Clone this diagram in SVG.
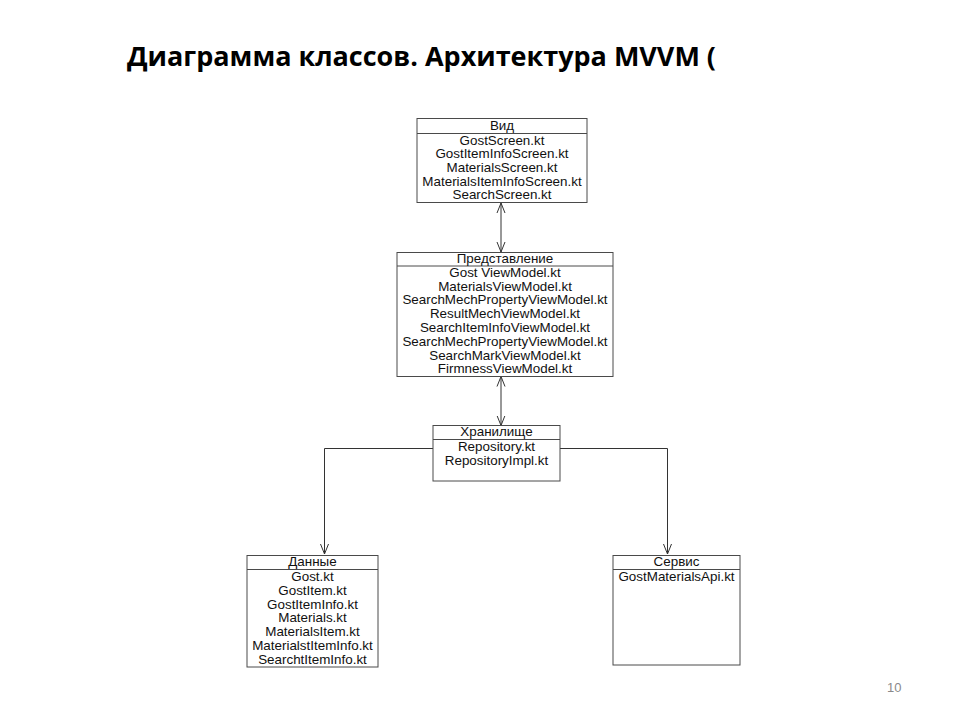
<svg xmlns="http://www.w3.org/2000/svg" width="960" height="720" viewBox="0 0 960 720">
<style>
.box{fill:#fff;stroke:#4a4a4a;stroke-width:1}
.sep{stroke:#4a4a4a;stroke-width:1}
.t{font-family:"Liberation Sans",Arial,sans-serif;font-size:13.4px;fill:#111;text-anchor:middle}
.title{font-family:"Open Sans","Noto Sans",sans-serif;font-weight:700;font-size:26px;fill:#000}
.num{font-family:"Liberation Sans",Arial,sans-serif;font-size:13px;fill:#8a8a8a}
.conn{fill:none;stroke:#333;stroke-width:1}
</style>
<defs>
<marker id="arr" viewBox="0 0 10 10" refX="10" refY="5" markerWidth="10" markerHeight="10" markerUnits="userSpaceOnUse" orient="auto-start-reverse">
<path d="M0,1 L10,5 L0,9" fill="none" stroke="#333" stroke-width="1"/>
</marker>
</defs>
<rect width="960" height="720" fill="#fff"/>
<text class="title" x="127" y="66" textLength="589" lengthAdjust="spacingAndGlyphs">Диаграмма классов. Архитектура MVVM (</text>

<g id="connectors">
<line class="conn" x1="501" y1="203" x2="501" y2="252" marker-start="url(#arr)" marker-end="url(#arr)"/>
<line class="conn" x1="501" y1="376.5" x2="501" y2="425.5" marker-start="url(#arr)" marker-end="url(#arr)"/>
<polyline class="conn" points="433,448.5 324.5,448.5 324.5,554" marker-end="url(#arr)"/>
<polyline class="conn" points="559.5,448.5 667.5,448.5 667.5,554" marker-end="url(#arr)"/>
</g>

<g id="vid">
<rect class="box" x="417" y="118.5" width="170" height="84"/>
<line class="sep" x1="417" y1="133.5" x2="587" y2="133.5"/>
<text class="t" x="502" y="130">Вид</text>
<text class="t" x="502" y="144.5">GostScreen.kt</text>
<text class="t" x="502" y="158.2">GostItemInfoScreen.kt</text>
<text class="t" x="502" y="172">MaterialsScreen.kt</text>
<text class="t" x="502" y="185.7">MaterialsItemInfoScreen.kt</text>
<text class="t" x="502" y="199.4">SearchScreen.kt</text>
</g>

<g id="predstavlenie">
<rect class="box" x="397" y="252.5" width="216" height="124"/>
<line class="sep" x1="397" y1="266" x2="613" y2="266"/>
<text class="t" x="505" y="262.5">Представление</text>
<text class="t" x="505" y="276.7">Gost ViewModel.kt</text>
<text class="t" x="505" y="290.5">MaterialsViewModel.kt</text>
<text class="t" x="505" y="304.3">SearchMechPropertyViewModel.kt</text>
<text class="t" x="505" y="318.1">ResultMechViewModel.kt</text>
<text class="t" x="505" y="331.9">SearchItemInfoViewModel.kt</text>
<text class="t" x="505" y="345.7">SearchMechPropertyViewModel.kt</text>
<text class="t" x="505" y="359.5">SearchMarkViewModel.kt</text>
<text class="t" x="505" y="373.3">FirmnessViewModel.kt</text>
</g>

<g id="hranilishche">
<rect class="box" x="433" y="425.5" width="127" height="55.5"/>
<line class="sep" x1="433" y1="439.5" x2="560" y2="439.5"/>
<text class="t" x="496.5" y="436">Хранилище</text>
<text class="t" x="496.5" y="451">Repository.kt</text>
<text class="t" x="496.5" y="464.7">RepositoryImpl.kt</text>
</g>

<g id="dannye">
<rect class="box" x="247" y="555.5" width="131" height="111.5"/>
<line class="sep" x1="247" y1="569.5" x2="378" y2="569.5"/>
<text class="t" x="312.5" y="566">Данные</text>
<text class="t" x="312.5" y="581">Gost.kt</text>
<text class="t" x="312.5" y="594.8">GostItem.kt</text>
<text class="t" x="312.5" y="608.5">GostItemInfo.kt</text>
<text class="t" x="312.5" y="622.3">Materials.kt</text>
<text class="t" x="312.5" y="636">MaterialsItem.kt</text>
<text class="t" x="312.5" y="649.8">MaterialstItemInfo.kt</text>
<text class="t" x="312.5" y="663.5">SearchtItemInfo.kt</text>
</g>

<g id="servis">
<rect class="box" x="613" y="555.5" width="127" height="109.5"/>
<line class="sep" x1="613" y1="569.5" x2="740" y2="569.5"/>
<text class="t" x="676.5" y="566">Сервис</text>
<text class="t" x="676.5" y="581">GostMaterialsApi.kt</text>
</g>

<text class="num" x="887" y="692">10</text>
</svg>
